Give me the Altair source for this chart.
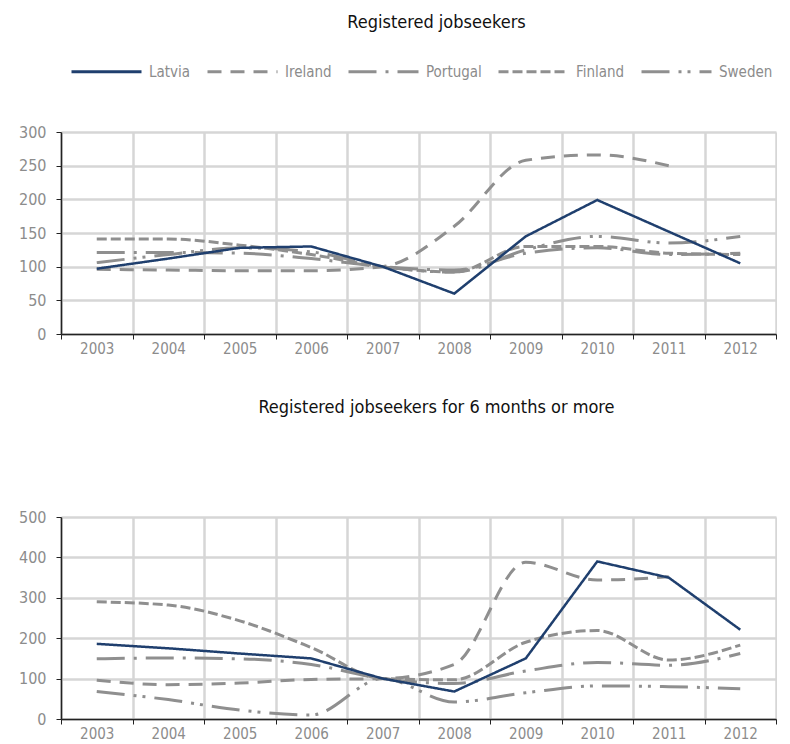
import altair as alt
import pandas as pd

years = [str(y) for y in range(2003, 2013)]
countries = ["Latvia", "Ireland", "Portugal", "Finland", "Sweden"]

# Registered jobseekers (2007 = 100)
top_latvia = [97, 112, 128, 130, 100, 60, 145, 199, 152, 105]
top_ireland = [96, 95, 94, 94, 100, 160, 258, 266, 250, None]
top_portugal = [121, 121, 120, 112, 100, 95, 120, 128, 118, 120]
top_finland = [141, 141, 132, 118, 100, 92, 130, 130, 120, 118]
top_sweden = [106, 118, 128, 122, 100, 92, 125, 145, 135, 145]

# Registered jobseekers for 6 months or more (2007 = 100)
bot_latvia = [186, 175, 162, 150, 100, 68, 150, 390, 350, 221]
bot_ireland = [96, 85, 89, 98, 100, 135, 388, 344, 352, None]
bot_portugal = [149, 151, 149, 135, 100, 88, 119, 140, 133, 162]
bot_finland = [290, 282, 243, 177, 100, 97, 190, 219, 146, 183]
bot_sweden = [68, 48, 22, 10, 100, 42, 65, 82, 80, 75]

colors = ["#1f3f6e", "#8f8f8f", "#8f8f8f", "#8f8f8f", "#8f8f8f"]
dashes = [[1, 0], [14, 9], [28, 9, 3, 9], [10, 4], [28, 9, 3, 6, 3, 9]]

FONT = "DejaVu Sans Condensed, Liberation Sans, sans-serif"


def make_df(series_list):
    rows = []
    for name, vals in zip(countries, series_list):
        for y, v in zip(years, vals):
            if v is not None:
                rows.append({"year": y, "country": name, "value": v})
    return pd.DataFrame(rows)


def panel(df, title, ymax, ystep):
    legend = alt.Legend(
        title=None, orient="none", legendX=9, legendY=-97, direction="horizontal",
        symbolType="stroke", symbolSize=4900, symbolStrokeWidth=3,
        labelFont=FONT, labelFontSize=15, labelColor="#8c8c8c",
        labelOffset=6, columnPadding=10, padding=0,
    )
    color = alt.Color("country:N", scale=alt.Scale(domain=countries, range=colors), legend=legend)
    dash = alt.StrokeDash("country:N", scale=alt.Scale(domain=countries, range=dashes), legend=legend)
    base = alt.Chart(df).encode(
        x=alt.X("year:O", title=None, axis=alt.Axis(
            labelAngle=0, tickBand="extent", grid=True, gridColor="#d6d6d6", gridWidth=2.5,
            domainColor="#222222", domainWidth=1.5, tickColor="#222222", tickSize=5,
            labelFont=FONT, labelFontSize=15, labelColor="#8c8c8c", labelPadding=2,
        )),
        y=alt.Y("value:Q", title=None, scale=alt.Scale(domain=[0, ymax], nice=False),
                axis=alt.Axis(
                    values=list(range(0, ymax + 1, ystep)), grid=True, gridColor="#d6d6d6", gridWidth=2.5,
                    domainColor="#222222", domainWidth=1.5, tickColor="#222222", tickSize=5,
                    labelFont=FONT, labelFontSize=16, labelColor="#8c8c8c", labelPadding=10,
                    minExtent=45, maxExtent=45,
                )),
        color=color,
        strokeDash=dash,
    )
    grey = base.transform_filter(alt.datum.country != "Latvia").mark_line(
        interpolate="monotone", strokeWidth=3)
    lat = base.transform_filter(alt.datum.country == "Latvia").mark_line(strokeWidth=2.5)
    return alt.layer(grey, lat).properties(
        width=715, height=202,
        title=alt.TitleParams(title, font=FONT, fontSize=18, fontWeight="normal", color="#111111",
                              anchor="middle", offset=92, dx=18),
    )


top = panel(make_df([top_latvia, top_ireland, top_portugal, top_finland, top_sweden]),
            "Registered jobseekers", 300, 50)
bot = panel(make_df([bot_latvia, bot_ireland, bot_portugal, bot_finland, bot_sweden]),
            "Registered jobseekers for 6 months or more", 500, 100)

chart = alt.vconcat(top, bot, spacing=43).properties(
    padding={"left": 8, "top": 6, "right": 0, "bottom": 0}
).configure_view(stroke=None).configure_concat(spacing=43)

chart.save("out.html", embed_options={"renderer": "svg", "actions": False})
